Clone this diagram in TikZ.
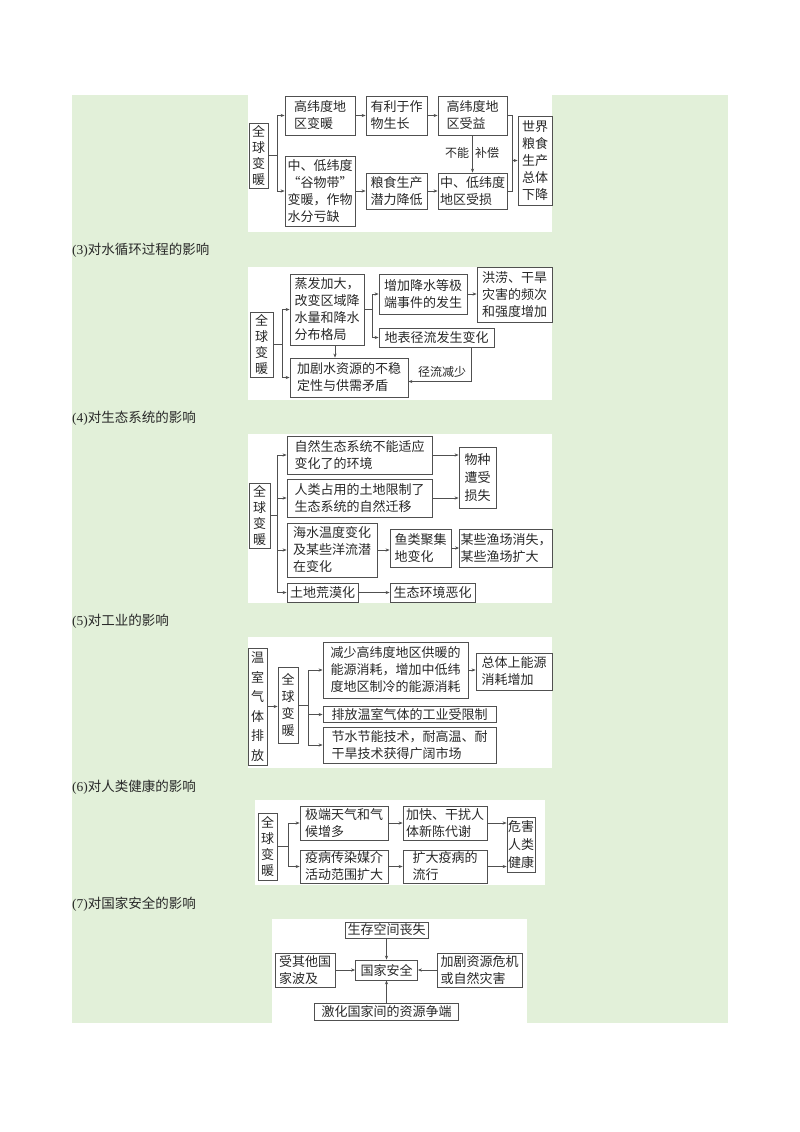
\documentclass[tikz,border=0pt]{standalone}
\usepackage{fontspec}
\setmainfont{Liberation Serif}
\newfontfamily\cjk{Noto Sans CJK SC}
\usetikzlibrary{arrows.meta}
\definecolor{bggreen}{RGB}{226,240,217}
\definecolor{ink}{RGB}{40,40,40}
\definecolor{edge}{RGB}{80,80,80}
\begin{document}
\begin{tikzpicture}[x=1pt,y=-1pt,
  box/.style={draw=edge, line width=0.8pt, fill=white, inner xsep=1pt, inner ysep=0.5pt, align=left, text=ink, font=\cjk\fontsize{13pt}{17pt}\selectfont},
  vbox/.style={box, align=center, font=\cjk\fontsize{13pt}{#1pt}\selectfont},
  sz/.style n args={2}{minimum width=#1pt, minimum height=#2pt},
  arr/.style={draw=edge, line width=0.7pt, -{Stealth[length=4pt,width=3.2pt]}},
  ln/.style={draw=edge, line width=0.7pt},
  head/.style={anchor=west, inner sep=0pt, text=ink, font=\fontsize{13.5pt}{16pt}\selectfont},
  lab/.style={inner sep=0pt, text=ink, font=\cjk\fontsize{12pt}{14pt}\selectfont}]
\useasboundingbox (0,0) rectangle (800,1132);
\fill[bggreen] (72,95) rectangle (728,1023);
\fill[white] (248,95) rectangle (552,232);
\fill[white] (248,267) rectangle (552,400);
\fill[white] (248,434) rectangle (552,603);
\fill[white] (248,637) rectangle (552,768);
\fill[white] (255,800) rectangle (545,885);
\fill[white] (272,919) rectangle (527,1023);

% headings
\node[head] (h3) at (72,250) {(3)\cjk 对水循环过程的影响};
\node[head] (h4) at (72,418) {(4)\cjk 对生态系统的影响};
\node[head] (h5) at (72,621) {(5)\cjk 对工业的影响};
\node[head] (h6) at (72,787) {(6)\cjk 对人类健康的影响};
\node[head] (h7) at (72,904) {(7)\cjk 对国家安全的影响};

% ---------- panel 1
\node[vbox=16, sz={19}{65}] (g1) at (258.5,155.5) {全\\球\\变\\暖};
\node[box, sz={70}{39}] (a1) at (320,115.5) {高纬度地\\区变暖};
\node[box, sz={61}{39}] (a2) at (396.5,115.5) {有利于作\\物生长};
\node[box, sz={69}{39}] (c1) at (472.5,115.5) {高纬度地\\区受益};
\node[box, sz={34}{89}] (w) at (535,160.5) {世界\\粮食\\生产\\总体\\下降};
\node[box, sz={70}{70}] (b1) at (320,191) {中、低纬度\\“谷物带”\\变暖，作物\\水分亏缺};
\node[box, sz={61}{36}] (b2) at (396.5,191) {粮食生产\\潜力降低};
\node[box, sz={69}{36}] (c2) at (472.5,191) {中、低纬度\\地区受损};
\coordinate (j1) at (277,155.5);
\draw[ln] (g1.east) -- (j1);
\draw[arr] (j1) |- (a1.west);
\draw[arr] (j1) |- (b1.west);
\draw[arr] (a1.east) -- (a2.west);
\draw[arr] (a2.east) -- (c1.west);
\draw[arr] (b1.east) -- (b2.west);
\draw[arr] (b2.east) -- (c2.west);
\draw[arr] (c1.south) -- (c2.north);
\node[lab] (l1) at (457,153) {不能};
\node[lab] (l2) at (487,153) {补偿};
\coordinate (j2) at (512,160.5);
\draw[ln] (c1.east) -| (j2);
\draw[ln] (c2.east) -| (j2);
\draw[arr] (j2) -- (w.west);

% ---------- panel 2
\node[vbox=16, sz={23}{65}] (g2) at (261.5,344.5) {全\\球\\变\\暖};
\node[box, sz={74}{71}] (e) at (327,309.5) {蒸发加大，\\改变区域降\\水量和降水\\分布格局};
\node[box, sz={88}{40}] (f) at (423,294) {增加降水等极\\端事件的发生};
\node[box, sz={75}{55}] (h) at (514.5,294.5) {洪涝、干旱\\灾害的频次\\和强度增加};
\node[box, sz={115}{19}] (r) at (436.5,337.5) {地表径流发生变化};
\node[box, sz={118}{39}] (k) at (349,377.5) {加剧水资源的不稳\\定性与供需矛盾};
\coordinate (j3) at (282,344.5);
\draw[ln] (g2.east) -- (j3);
\draw[arr] (j3) |- (e.west);
\draw[arr] (j3) |- (k.west);
\coordinate (j4) at (372,309.5);
\draw[ln] (e.east) -- (j4);
\draw[arr] (j4) |- (f.west);
\draw[arr] (j4) |- (r.west);
\draw[arr] (f.east) -- (f.east -| h.west);
\draw[arr] ([xshift=8pt]e.south) -- ([xshift=8pt]e.south |- k.north);
\draw[arr] ([xshift=-23pt]r.south east) |- ([yshift=-4pt]k.east);
\node[lab] (l3) at (442,372) {径流减少};

% ---------- panel 3
\node[vbox=16, sz={21}{65}] (g3) at (259.5,515.5) {全\\球\\变\\暖};
\node[box, sz={145}{38}] (n1) at (359.5,455) {自然生态系统不能适应\\变化了的环境};
\node[box, sz={145}{38}] (n2) at (359.5,498) {人类占用的土地限制了\\生态系统的自然迁移};
\node[box, sz={37}{61}, font=\cjk\fontsize{13pt}{18pt}\selectfont] (sp) at (477.5,477.5) {物种\\遭受\\损失};
\node[box, sz={90}{54}] (n3) at (332,550) {海水温度变化\\及某些洋流潜\\在变化};
\node[box, sz={61}{38}] (fish) at (420.5,548) {鱼类聚集\\地变化};
\node[box, sz={92}{38}] (fs) at (506,548) {某些渔场消失，\\某些渔场扩大};
\node[box, sz={71}{19}] (n4) at (322.5,592.5) {土地荒漠化};
\node[box, sz={85}{19}] (eco) at (432.5,592.5) {生态环境恶化};
\coordinate (j5) at (277,515.5);
\draw[ln] (g3.east) -- (j5);
\draw[arr] (j5) |- (n1.west);
\draw[arr] (j5) |- (n2.west);
\draw[arr] (j5) |- (n3.west);
\draw[arr] (j5) |- (n4.west);
\draw[arr] (n1.east) -- (n1.east -| sp.west);
\draw[arr] (n2.east) -- (n2.east -| sp.west);
\draw[arr] (n3.east) -- (n3.east -| fish.west);
\draw[arr] (fish.east) -- (fs.west);
\draw[arr] (n4.east) -- (eco.west);

% ---------- panel 4
\node[vbox=19.5, sz={19}{117}] (gs) at (257.5,706.5) {温\\室\\气\\体\\排\\放};
\node[vbox=17, sz={20}{76}] (g4) at (288,705) {全\\球\\变\\暖};
\node[box, sz={145}{56}] (m1) at (395.5,670) {减少高纬度地区供暖的\\能源消耗，增加中低纬\\度地区制冷的能源消耗};
\node[box, sz={76}{37}] (tot) at (514,671.5) {总体上能源\\消耗增加};
\node[box, sz={173}{16}, inner ysep=0pt] (m2) at (409.5,714.5) {排放温室气体的工业受限制};
\node[box, sz={173}{36}] (m3) at (409.5,745) {节水节能技术，耐高温、耐\\干旱技术获得广阔市场};
\draw[arr] (gs.east) -- (gs.east -| g4.west);
\coordinate (j6) at (308,705);
\draw[ln] (g4.east) -- (j6);
\draw[arr] (j6) |- (m1.west);
\draw[arr] (j6) |- (m2.west);
\draw[arr] (j6) |- (m3.west);
\draw[arr] (m1.east) -- (m1.east -| tot.west);

% ---------- panel 5
\node[vbox=16, sz={19}{67}] (g5) at (267.5,846.5) {全\\球\\变\\暖};
\node[box, sz={88}{34}] (p1) at (344,823) {极端天气和气\\候增多};
\node[box, sz={88}{33}] (p2) at (344,866.5) {疫病传染媒介\\活动范围扩大};
\node[box, sz={84}{34}] (q1) at (445,823) {加快、干扰人\\体新陈代谢};
\node[box, sz={84}{33}] (q2) at (445,866.5) {扩大疫病的\\流行};
\node[box, sz={28}{55}, font=\cjk\fontsize{13pt}{18pt}\selectfont] (hz) at (521,844.5) {危害\\人类\\健康};
\coordinate (j7) at (288,846.5);
\draw[ln] (g5.east) -- (j7);
\draw[arr] (j7) |- (p1.west);
\draw[arr] (j7) |- (p2.west);
\draw[arr] (p1.east) -- (q1.west);
\draw[arr] (p2.east) -- (q2.west);
\draw[arr] (q1.east) -- (q1.east -| hz.west);
\draw[arr] (q2.east) -- (q2.east -| hz.west);

% ---------- panel 6
\node[box, sz={83}{16}, inner ysep=0pt] (s1) at (386.5,930) {生存空间丧失};
\node[box, sz={60}{34}] (s2) at (305,970) {受其他国\\家波及};
\node[box, sz={62}{20}] (s3) at (386.5,970) {国家安全};
\node[box, sz={85}{34}] (s4) at (479.5,970) {加剧资源危机\\或自然灾害};
\node[box, sz={144}{17}, inner ysep=0pt] (s5) at (386.5,1011.5) {激化国家间的资源争端};
\draw[arr] (s1.south) -- (s3.north);
\draw[arr] (s2.east) -- (s3.west);
\draw[arr] (s4.west) -- (s3.east);
\draw[arr] (s5.north) -- (s3.south);
\end{tikzpicture}
\end{document}
